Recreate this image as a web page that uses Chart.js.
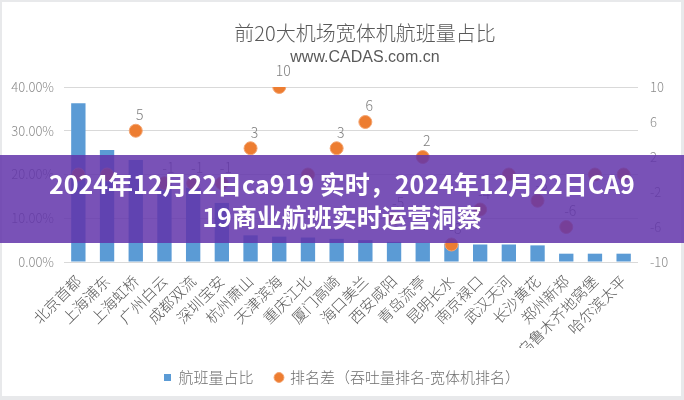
<!DOCTYPE html>
<html lang="zh-CN">
<head>
    <meta charset="UTF-8">
    <title>前20大机场宽体机航班量占比</title>
    <script src="https://cdn.jsdelivr.net/npm/chart.js"></script>
    <style>
        html, body { margin: 0; padding: 0; }
        body {
            width: 684px; height: 400px; position: relative; overflow: hidden;
            background: #e8e9eb;
            font-family: "Noto Sans CJK SC", sans-serif;
        }
        .card { position: absolute; left: 2px; top: 2px; width: 679px; height: 394px; background: #fff; }
        canvas { position: absolute; left: 0; top: 0; }
        .title, .subtitle {
            position: absolute; left: 365px; transform: translateX(-50%);
            white-space: nowrap; color: #595959; font-weight: 300;
        }
        .title { top: 21px; font-size: 20px; line-height: 24px; }
        .subtitle { top: 47px; font-size: 16px; line-height: 20px; font-family: "Liberation Sans", Arial, sans-serif; }
        /* overlay banner */
        .banner {
            position: absolute; left: 0; top: 155px; width: 684px; height: 88px;
            background: rgba(98, 52, 170, 0.85);
        }
        .banner p {
            margin: 0; padding-top: 12px; text-align: center;
            color: #fff; font-weight: bold; font-size: 25px; line-height: 33px;
        }
    </style>
</head>
<body>
    <div class="card"></div>
    <canvas id="chart" width="684" height="400"></canvas>
    <div class="title">前20大机场宽体机航班量占比</div>
    <div class="subtitle">www.CADAS.com.cn</div>
    <div class="banner"><p>2024年12月22日ca919 实时，2024年12月22日CA9<br>19商业航班实时运营洞察</p></div>

    <script>
        // data
        const airports = ['北京首都', '上海浦东', '上海虹桥', '广州白云', '成都双流', '深圳宝安', '杭州萧山',
            '天津滨海', '重庆江北', '厦门高崎', '海口美兰', '西安咸阳', '青岛流亭', '昆明长水', '南京禄口',
            '武汉天河', '长沙黄花', '郑州新郑', '乌鲁木齐地窝堡', '哈尔滨太平'];
        const flightShare = [36.3, 25.6, 23.3, 18.5, 17.0, 13.5, 6.1, 5.8, 5.6, 5.3,
            5.0, 4.6, 4.4, 4.2, 4.0, 4.0, 3.8, 1.9, 1.9, 1.9];
        const rankDiff = [0, 0, 5, -1, -1, -1, 3, 10, 0, 3, 6, -5, 2, -8, -4, 0, -3, -6, 0, 0];
        const shareTicks = [0, 10, 20, 30, 40];
        const rankTicks = [-10, -6, -2, 2, 6, 10];

        Chart.defaults.font.family = '"Noto Sans CJK SC", sans-serif';

        // value labels above the dots
        const dotLabels = {
            id: 'dotLabels',
            afterDatasetsDraw(chart) {
                const ctx = chart.ctx;
                const meta = chart.getDatasetMeta(1);
                ctx.save();
                ctx.font = '300 14px "Noto Sans CJK SC"';
                ctx.fillStyle = '#7f7f7f';
                ctx.textAlign = 'center';
                ctx.textBaseline = 'middle';
                meta.data.forEach((pt, i) => {
                    if (rankDiff[i] === 0) return;
                    ctx.fillText(String(rankDiff[i]), pt.x + 4, pt.y - 16);
                });
                ctx.restore();
            }
        };

        new Chart(document.getElementById('chart'), {
            data: {
                labels: airports,
                datasets: [{
                    type: 'bar',
                    label: '航班量占比',
                    data: flightShare,
                    backgroundColor: '#5b9bd5',
                    barPercentage: 0.5,
                    categoryPercentage: 1.0,
                    pointStyle: 'rect',
                    yAxisID: 'y',
                    order: 1
                }, {
                    type: 'line',
                    label: '排名差（吞吐量排名-宽体机排名）',
                    data: rankDiff,
                    showLine: false,
                    pointRadius: 6.5,
                    pointBackgroundColor: '#ed7d31',
                    pointBorderColor: '#f3a36f',
                    pointBorderWidth: 1,
                    backgroundColor: '#ed7d31',
                    borderColor: '#ed7d31',
                    pointStyle: 'circle',
                    yAxisID: 'y2',
                    order: 0
                }]
            },
            options: {
                responsive: false,
                animation: false,
                layout: { padding: { top: 87, bottom: 5, left: 0, right: 0 } },
                plugins: {
                    legend: {
                        position: 'bottom',
                        labels: {
                            usePointStyle: true,
                            boxWidth: 7,
                            boxHeight: 7,
                            padding: 22,
                            color: '#6f6f6f',
                            font: { size: 15, weight: 300 },
                            sort: (a, b) => a.datasetIndex - b.datasetIndex
                        }
                    },
                    tooltip: { enabled: false }
                },
                scales: {
                    x: {
                        grid: { display: false },
                        border: { display: false },
                        ticks: {
                            color: '#595959',
                            font: { size: 15, weight: 300 },
                            minRotation: 45,
                            maxRotation: 45,
                            autoSkip: false,
                            padding: 2
                        },
                        afterFit: s => { s.height = 86; }
                    },
                    y: {
                        position: 'left',
                        min: 0,
                        max: 40,
                        afterBuildTicks: s => { s.ticks = shareTicks.map(v => ({ value: v })); },
                        grid: { color: '#d9d9d9', drawTicks: false },
                        border: { display: false },
                        ticks: {
                            padding: 10,
                            color: '#8c8c8c',
                            font: { size: 13, weight: 300 },
                            callback: v => v.toFixed(2) + '%'
                        },
                        afterFit: s => { s.width = 64; }
                    },
                    y2: {
                        position: 'right',
                        min: -10,
                        max: 10,
                        afterBuildTicks: s => { s.ticks = rankTicks.map(v => ({ value: v })); },
                        grid: { display: false, drawTicks: false },
                        border: { display: false },
                        ticks: {
                            padding: 12,
                            color: '#8c8c8c',
                            font: { size: 13, weight: 300 }
                        },
                        afterFit: s => { s.width = 46; }
                    }
                }
            },
            plugins: [dotLabels]
        });
    </script>
</body>
</html>
